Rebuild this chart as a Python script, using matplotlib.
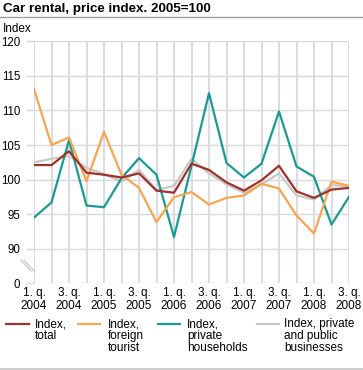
import matplotlib
matplotlib.use("Agg")
import matplotlib.pyplot as plt
from matplotlib.lines import Line2D

plt.rcParams['font.family'] = ['Liberation Sans', 'DejaVu Sans']

# Quarters 1. q. 2004 .. 3. q. 2008
quarters = ["1. q.\n2004", "2. q.\n2004", "3. q.\n2004", "4. q.\n2004",
            "1. q.\n2005", "2. q.\n2005", "3. q.\n2005", "4. q.\n2005",
            "1. q.\n2006", "2. q.\n2006", "3. q.\n2006", "4. q.\n2006",
            "1. q.\n2007", "2. q.\n2007", "3. q.\n2007", "4. q.\n2007",
            "1. q.\n2008", "2. q.\n2008", "3. q.\n2008"]

index_total = [102.1, 102.1, 104.1, 101.0, 100.7, 100.3, 100.9, 98.4, 98.1, 102.3,
               101.4, 99.6, 98.4, 99.9, 102.0, 98.3, 97.35, 98.55, 98.8]
index_foreign = [113.1, 105.0, 106.1, 99.75, 106.9, 100.7, 98.8, 93.85, 97.45, 98.2,
                 96.4, 97.35, 97.7, 99.4, 98.7, 94.8, 92.2, 99.7, 99.1]
index_households = [94.5, 96.7, 105.7, 96.25, 96.0, 100.2, 103.1, 100.7, 91.7, 102.0,
                    112.5, 102.4, 100.3, 102.3, 109.85, 101.9, 100.4, 93.5, 97.5]
index_business = [102.5, 103.0, 103.4, 101.7, 100.8, 99.7, 101.4, 98.5, 99.1, 103.0,
                  100.9, 99.3, 98.1, 99.3, 100.9, 97.7, 97.1, 99.2, 99.0]

series_labels = ["Index,\ntotal", "Index,\nforeign\ntourist",
                 "Index,\nprivate\nhouseholds", "Index, private\nand public\nbusinesses"]
colors = ["#a0302a", "#f8a54d", "#1a9a93", "#c8c8c8"]

# broken axis: the "0" tick sits one step below 90
ytick_vals = [85, 90, 95, 100, 105, 110, 115, 120]
ytick_labels = ["0", "90", "95", "100", "105", "110", "115", "120"]

W, H = 363, 370
fig = plt.figure(figsize=(W / 100, H / 100), dpi=100)
ax = fig.add_axes([34 / W, 1 - 283.3 / H, 315 / W, 242 / H])

grid_c = "#d8d8e0"
x = list(range(len(quarters)))
ax.plot(x, index_business, color=colors[3], lw=1.6, zorder=3)
ax.plot(x, index_households, color=colors[2], lw=1.6, zorder=4)
ax.plot(x, index_foreign, color=colors[1], lw=1.6, zorder=5)
ax.plot(x, index_total, color=colors[0], lw=1.6, zorder=6)

ax.set_xlim(0, len(quarters) - 1)
ax.set_ylim(85, 120)
ax.set_yticks(ytick_vals)
ax.set_yticklabels(ytick_labels)
ax.set_xticks(x)
ax.set_xticklabels([q if i % 2 == 0 else "" for i, q in enumerate(quarters)],
                   linespacing=1.12)
# tick length / pad in points (1 px = 0.72 pt)
ax.tick_params(axis='y', length=5.8, width=1.0, color=grid_c, pad=4.0, labelsize=8.3)
ax.tick_params(axis='x', length=0, pad=2.5, labelsize=8.5)
for s in ax.spines.values():
    s.set_visible(False)

for v in ytick_vals:
    ax.axhline(v, color=grid_c, lw=1.0, zorder=1)
for xi in x:
    ax.axvline(xi, color=grid_c, lw=1.3, zorder=1)

# break marks
for dx in (0, 3):
    ax.plot([(21 + dx - 34) / 315, (31 + dx - 34) / 315],
            [(283.3 - 260) / 242, (283.3 - 271) / 242],
            transform=ax.transAxes, color="#cccccc", lw=1.0, clip_on=False)

# title and header
fig.text(3 / W, 1 - 12 / H, "Car rental, price index. 2005=100",
         fontsize=9.6, fontweight='bold', va='baseline', ha='left')
fig.add_artist(Line2D([0, 1], [1 - 16.5 / H, 1 - 16.5 / H], color="#a0a0a0", lw=1.0))
fig.text(3 / W, 1 - 29.5 / H, "Index", fontsize=8.5, va='center', ha='left')

# legend
leg_x = [(6, 29, 35), (78, 100, 108), (158, 180, 187), (257, 279, 284)]
for (x0, x1, tx), lab, c in zip(leg_x, series_labels, colors):
    fig.add_artist(Line2D([x0 / W, x1 / W], [1 - 324 / H, 1 - 324 / H], color=c, lw=1.6))
    fig.text(tx / W, 1 - 318.5 / H, lab, fontsize=8.5, va='top', ha='left', linespacing=0.95)

fig.add_artist(Line2D([0, 1], [1 - 368.5 / H, 1 - 368.5 / H], color="#cccccc", lw=2.0))

fig.savefig("out.png", dpi=100)
